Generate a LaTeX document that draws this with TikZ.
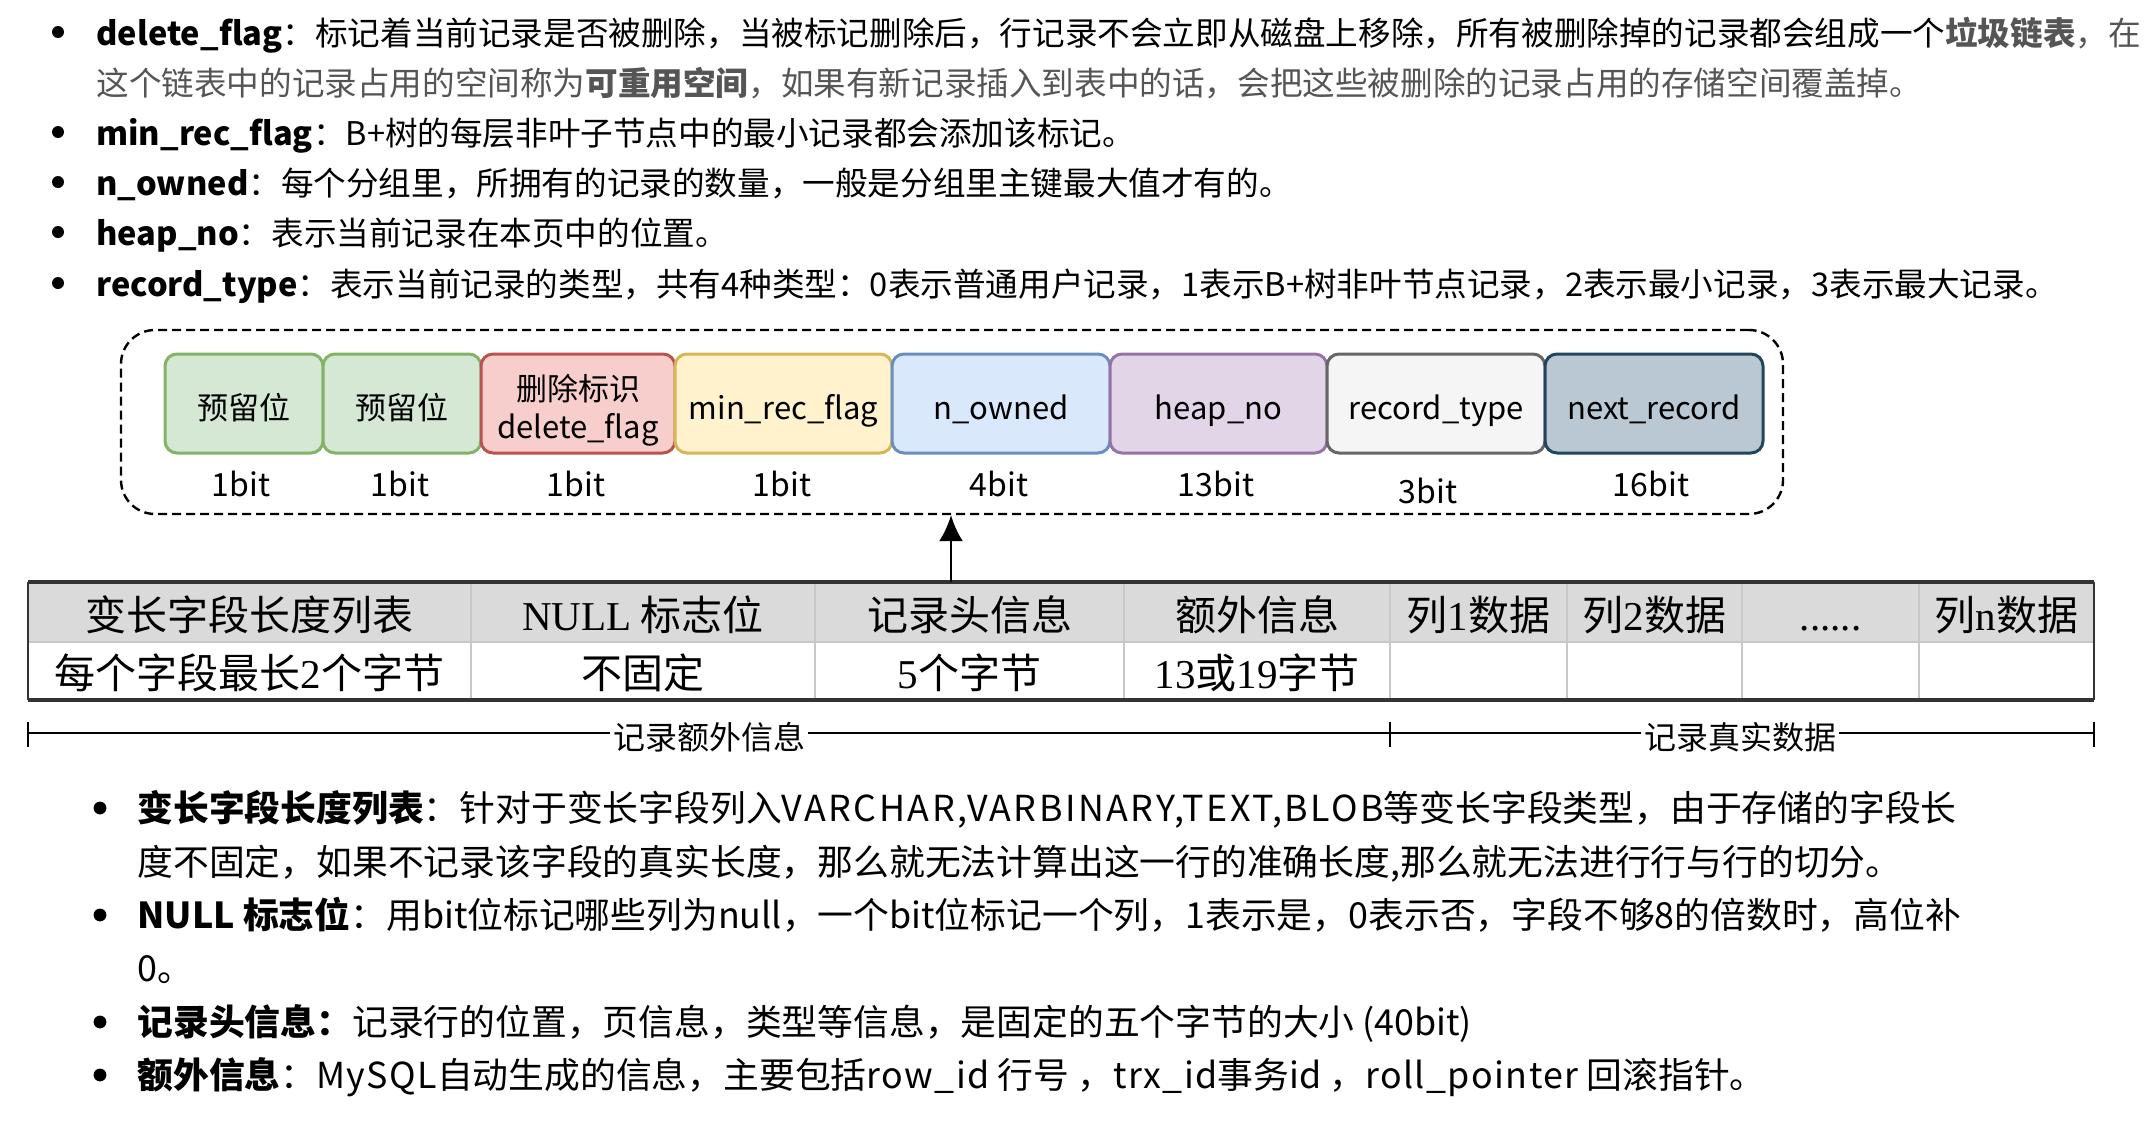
\documentclass[tikz,border=0pt]{standalone}
\usepackage{fontspec}
\setmainfont{Noto Sans CJK SC}
\newfontfamily\serifl{Liberation Serif}
\newcommand\widelat[2]{{\addfontfeature{LetterSpace=#1}#2}}
\usetikzlibrary{arrows.meta}
\definecolor{txtgray}{HTML}{555555}
\definecolor{gfill}{HTML}{D5E8D4}\definecolor{gdraw}{HTML}{82B366}
\definecolor{rfill}{HTML}{F8CECC}\definecolor{rdraw}{HTML}{B85450}
\definecolor{yfill}{HTML}{FFF2CC}\definecolor{ydraw}{HTML}{D6B656}
\definecolor{bfill}{HTML}{DAE8FC}\definecolor{bdraw}{HTML}{6C8EBF}
\definecolor{pfill}{HTML}{E1D5E7}\definecolor{pdraw}{HTML}{9673A6}
\definecolor{sfill}{HTML}{F5F5F5}\definecolor{sdraw}{HTML}{666666}
\definecolor{dfill}{HTML}{BAC8D3}\definecolor{ddraw}{HTML}{23445D}
\definecolor{headfill}{HTML}{DADADA}
\definecolor{innerline}{HTML}{C8C8C8}
\begin{document}
\begin{tikzpicture}[x=0.5pt,y=-0.5pt,
  toptext/.style={anchor=base west, inner sep=0pt, font=\fontsize{16.3pt}{20pt}\selectfont},
  bottext/.style={anchor=base west, inner sep=0pt, font=\fontsize{17.9pt}{22pt}\selectfont},
  bulletdot/.style={fill=black},
  fieldbox/.style={rounded corners=6pt, line width=1.5pt, minimum height=49.5pt, inner sep=0pt, align=center, text height=16pt, text depth=0pt, font=\fontsize{15.5pt}{19pt}\selectfont},
  fieldtext/.style={inner sep=0pt, align=center, font=\fontsize{15.5pt}{19pt}\selectfont},
  bitlbl/.style={anchor=base, inner sep=0pt, font=\fontsize{16pt}{19pt}\selectfont},
  tbltext/.style={anchor=base, inner sep=0pt, font=\fontsize{20.5pt}{24pt}\selectfont},
  brlbl/.style={anchor=base, fill=white, inner xsep=1.5pt, inner ysep=1pt, font=\fontsize{16pt}{19pt}\selectfont},
  groupbox/.style={draw, line width=1.2pt, dash pattern=on 4.5pt off 2.5pt, rounded corners=17pt, minimum width=831pt, minimum height=92pt, inner sep=0pt},
  dimline/.style={line width=1.2pt},
  arrowline/.style={line width=1.2pt, -{Latex[length=13pt,width=12pt]}}
]
\useasboundingbox (0,0) rectangle (2152,1124);

% ---------- top bullet list ----------
\foreach \yy in {32,132,182,232,283} \fill[bulletdot] (58,\yy) circle[radius=3pt];
\node[toptext] (t1) at (96,45) {{\bfseries delete\_flag}：标记着当前记录是否被删除，当被标记删除后，行记录不会立即从磁盘上移除，所有被删除掉的记录都会组成一个{\color{txtgray}\bfseries 垃圾链表}{\color{txtgray}，在}};
\node[toptext, text=txtgray] (t2) at (96,95) {这个链表中的记录占用的空间称为{\bfseries 可重用空间}，如果有新记录插入到表中的话，会把这些被删除的记录占用的存储空间覆盖掉。};
\node[toptext] (t3) at (96,145) {{\bfseries min\_rec\_flag}：B+树的每层非叶子节点中的最小记录都会添加该标记。};
\node[toptext] (t4) at (96,195) {{\bfseries n\_owned}：每个分组里，所拥有的记录的数量，一般是分组里主键最大值才有的。};
\node[toptext] (t5) at (96,245) {{\bfseries heap\_no}：表示当前记录在本页中的位置。};
\node[toptext] (t6) at (96,296) {{\bfseries record\_type}：表示当前记录的类型，共有4种类型：0表示普通用户记录，1表示B+树非叶节点记录，2表示最小记录，3表示最大记录。};

% ---------- record header group ----------
\node[groupbox] (grp) at (952,422) {};

\node[fieldbox, fill=gfill, draw=gdraw, minimum width=79pt] (f1) at (244,403.5) {预留位};
\node[fieldbox, fill=gfill, draw=gdraw, minimum width=79pt] (f2) at (402,403.5) {预留位};
\node[fieldbox, fill=rfill, draw=rdraw, minimum width=97pt] (f3) at (578,403.5) {};
\node[fieldtext] (f3t) at (578,410) {删除标识\\delete\_flag};
\node[fieldbox, fill=yfill, draw=ydraw, minimum width=108.5pt] (f4) at (783.5,403.5) {min\_rec\_flag};
\node[fieldbox, fill=bfill, draw=bdraw, minimum width=109pt] (f5) at (1001,403.5) {n\_owned};
\node[fieldbox, fill=pfill, draw=pdraw, minimum width=108.5pt] (f6) at (1218.5,403.5) {heap\_no};
\node[fieldbox, fill=sfill, draw=sdraw, minimum width=109pt] (f7) at (1436,403.5) {record\_type};
\node[fieldbox, fill=dfill, draw=ddraw, minimum width=109pt] (f8) at (1654,403.5) {next\_record};

\node[bitlbl] (b1) at (241,496) {1bit};
\node[bitlbl] (b2) at (400,496) {1bit};
\node[bitlbl] (b3) at (576,496) {1bit};
\node[bitlbl] (b4) at (782,496) {1bit};
\node[bitlbl] (b5) at (999,496) {4bit};
\node[bitlbl] (b6) at (1216,496) {13bit};
\node[bitlbl] (b7) at (1428,503) {3bit};
\node[bitlbl] (b8) at (1651,496) {16bit};

% ---------- row format table ----------
\fill[headfill] (28,582) rectangle (2094,642);
\draw[innerline, line width=0.8pt] (28,642) -- (2094,642);
\foreach \xx in {471,815,1124,1390,1567,1742,1919}
  \draw[innerline, line width=0.8pt] (\xx,582) -- (\xx,700);
\draw[line width=1pt, black!80] (28,582) -- (28,700) (2094,582) -- (2094,700);
\draw[line width=1.7pt, black!80] (28,582) -- (2094,582) (28,700) -- (2094,700);

\node[tbltext] (h1) at (249.5,630) {变长字段长度列表};
\node[tbltext] (h2) at (643,630) {{\serifl NULL} 标志位};
\node[tbltext] (h3) at (969.5,630) {记录头信息};
\node[tbltext] (h4) at (1257,630) {额外信息};
\node[tbltext] (h5) at (1478.5,630) {列{\serifl 1}数据};
\node[tbltext] (h6) at (1654.5,630) {列{\serifl 2}数据};
\node[tbltext] (h7) at (1830.5,630) {\serifl ......};
\node[tbltext] (h8) at (2006.5,630) {列{\serifl n}数据};
\node[tbltext] (r1) at (249.5,688) {每个字段最长{\serifl 2}个字节};
\node[tbltext] (r2) at (643,688) {不固定};
\node[tbltext] (r3) at (969.5,688) {{\serifl 5}个字节};
\node[tbltext] (r4) at (1257,688) {{\serifl 13}或{\serifl 19}字节};

% arrow from table to group
\coordinate (afoot) at (951,582);
\draw[arrowline] (afoot) -- (afoot |- grp.south);

% ---------- dimension lines ----------
\coordinate (dL) at (28,733);
\coordinate (dM) at (1390,733);
\coordinate (dR) at (2094,733);
\draw[dimline] (dL) -- (dR);
\draw[dimline] ([yshift=5.5pt]dL) -- ([yshift=-7pt]dL);
\draw[dimline] ([yshift=5.5pt]dM) -- ([yshift=-7pt]dM);
\draw[dimline] ([yshift=5.5pt]dR) -- ([yshift=-7pt]dR);
\node[brlbl] (l1) at (709,749) {记录额外信息};
\node[brlbl] (l2) at (1740,749) {记录真实数据};

% ---------- bottom bullet list ----------
\foreach \yy in {808,915,1022,1075} \fill[bulletdot] (100,\yy) circle[radius=3.2pt];
\node[bottext] (u1) at (137,821) {{\bfseries 变长字段长度列表}：针对于变长字段列入\widelat{7}{VARCHAR,VARBINARY,TEXT,BLOB}等变长字段类型，由于存储的字段长};
\node[bottext] (u2) at (137,875) {度不固定，如果不记录该字段的真实长度，那么就无法计算出这一行的准确长度,那么就无法进行行与行的切分。};
\node[bottext] (u3) at (137,928) {{\bfseries NULL 标志位}：用bit位标记哪些列为null，一个bit位标记一个列，1表示是，0表示否，字段不够8的倍数时，高位补};
\node[bottext] (u4) at (137,981) {0。};
\node[bottext] (u5) at (137,1035) {{\bfseries 记录头信息：}记录行的位置，页信息，类型等信息，是固定的五个字节的大小 (40bit)};
\node[bottext] (u6) at (137,1088) {{\bfseries 额外信息}：\widelat{4}{MySQL}自动生成的信息，主要包括\widelat{4}{row\_id} 行号 ，\widelat{4}{trx\_id}事务id ，\widelat{4}{roll\_pointer} 回滚指针。};
\end{tikzpicture}
\end{document}
